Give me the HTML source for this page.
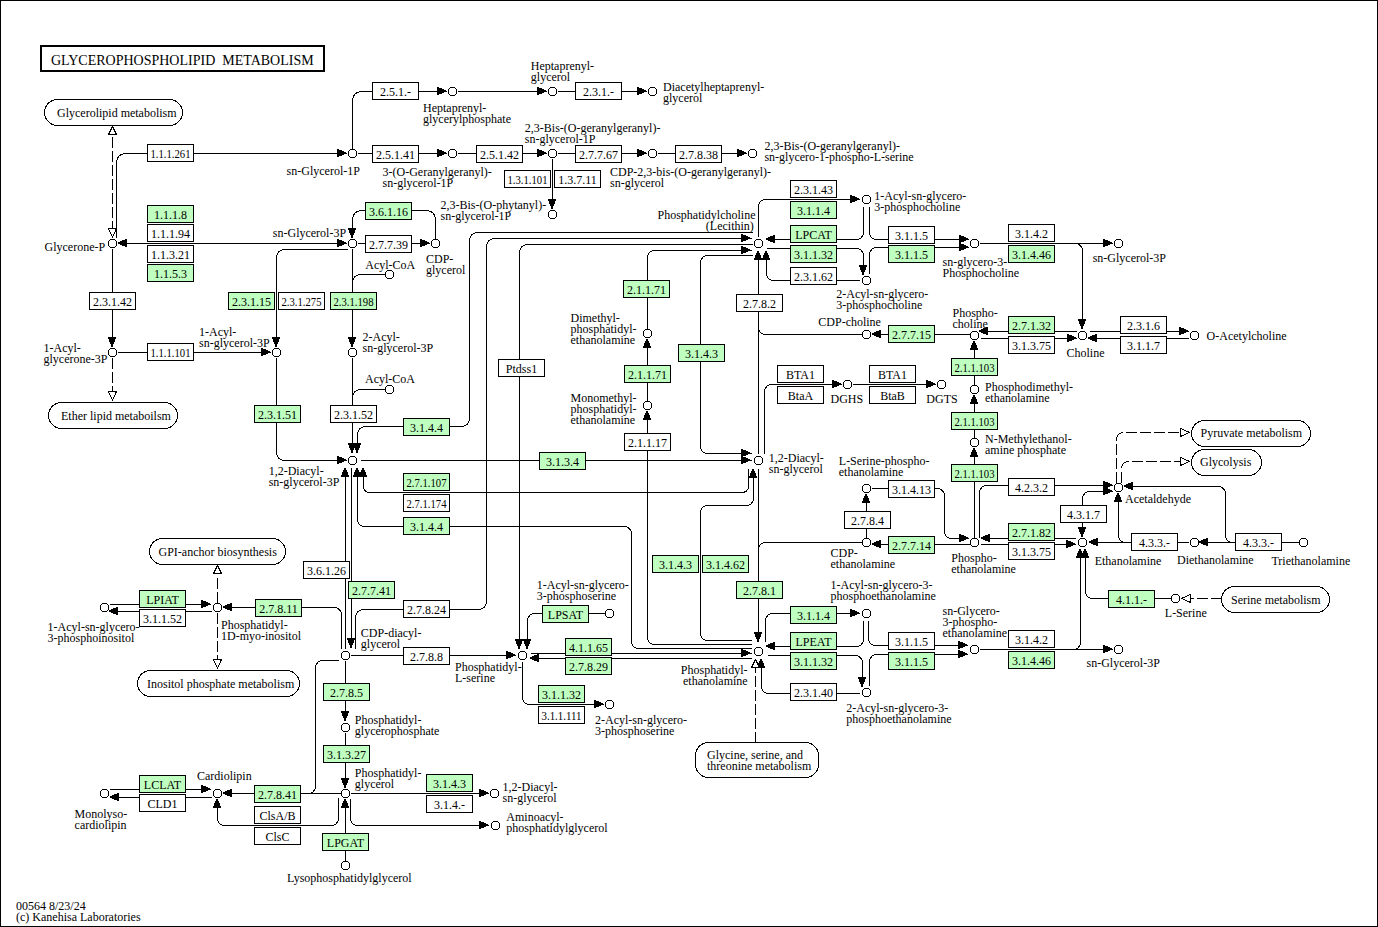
<!DOCTYPE html>
<html><head><meta charset="utf-8"><style>
html,body{margin:0;padding:0;background:#fff;}
svg{display:block;}
text{font-family:"Liberation Serif",serif;font-size:13px;fill:#000;}
</style></head><body>
<svg width="1378" height="927" viewBox="0 0 1378 927">
<rect x="0.5" y="0.5" width="1377" height="926" fill="#fff" stroke="#000"/>
<g fill="none" stroke="#000" stroke-width="1" shape-rendering="crispEdges">
<path d="M116.5 237.5 L116.50 163.50 Q116.5 153.5 126.50 153.50 L345.5 153.5"/>
<path d="M118.5 243.5 L346.5 243.5"/>
<path d="M112.5 248.5 L112.5 345.5"/>
<path d="M117.5 352.5 L269.5 352.5"/>
<path d="M347.5 249.5 L285.50 249.50 Q276.5 249.5 276.50 258.50 L276.5 345.5"/>
<path d="M276.5 357.5 L276.50 451.50 Q276.5 460.5 285.50 460.50 L345.5 460.5"/>
<path d="M352.5 248.5 L352.5 345.5"/>
<path d="M384.5 274.5 L361.50 274.50 Q352.5 274.5 352.50 283.50 L352.5 292.5"/>
<path d="M352.5 357.5 L352.5 452.5"/>
<path d="M384.5 389.5 L361.50 389.50 Q352.5 389.5 352.50 398.50 L352.5 405.5"/>
<path d="M435.5 238.5 L435.50 220.50 Q435.5 210.5 425.50 210.50 L362.50 210.50 Q352.5 210.5 352.50 220.50 L352.5 237.5"/>
<path d="M357.5 243.5 L428.5 243.5"/>
<path d="M352.5 148.5 L352.50 101.50 Q352.5 91.5 362.50 91.50 L446.5 91.5"/>
<path d="M457.5 91.5 L546.5 91.5"/>
<path d="M557.5 91.5 L646.5 91.5"/>
<path d="M357.5 153.5 L446.5 153.5"/>
<path d="M457.5 153.5 L546.5 153.5"/>
<path d="M557.5 153.5 L646.5 153.5"/>
<path d="M657.5 153.5 L746.5 153.5"/>
<path d="M552.5 158.5 L552.5 207.5"/>
<path d="M752.5 232.5 L478.50 232.50 Q469.5 232.5 469.50 241.50 L469.50 417.50 Q469.5 426.5 460.50 426.50 L366.50 426.50 Q357.5 426.5 357.50 435.50 L357.5 452.5"/>
<path d="M360.5 460.5 L751.5 460.5"/>
<path d="M748.5 468.5 L748.50 485.50 Q748.5 492.5 741.50 492.50 L370.50 492.50 Q363.5 492.5 363.50 485.50 L363.5 468.5"/>
<path d="M751.5 648.5 L639.50 648.50 Q631.5 648.5 631.50 640.50 L631.50 534.50 Q631.5 526.5 623.50 526.50 L365.50 526.50 Q357.5 526.5 357.50 518.50 L357.5 468.5"/>
<path d="M345.5 648.5 L345.5 468.5"/>
<path d="M351.5 467.5 L351.5 647.5"/>
<path d="M355.5 648.5 L355.50 618.50 Q355.5 609.5 364.50 609.50 L477.50 609.50 Q486.5 609.5 486.50 600.50 L486.50 247.50 Q486.5 238.5 495.50 238.50 L751.5 238.5"/>
<path d="M752.5 244.5 L528.50 244.50 Q519.5 244.5 519.50 253.50 L519.5 648.5"/>
<path d="M350.5 655.5 L515.5 655.5"/>
<path d="M604.5 613.5 L535.50 613.50 Q527.5 613.5 527.50 621.50 L527.5 648.5"/>
<path d="M530.5 653.5 L751.5 653.5"/>
<path d="M751.5 658.5 L530.5 658.5"/>
<path d="M522.5 661.5 L522.50 696.50 Q522.5 704.5 530.50 704.50 L603.5 704.5"/>
<path d="M345.5 660.5 L345.5 720.5"/>
<path d="M345.5 732.5 L345.5 786.5"/>
<path d="M338.5 660.5 L323.50 660.50 Q315.5 660.5 315.50 668.50 L315.50 785.50 Q315.5 793.5 307.50 793.50 L305.5 793.5"/>
<path d="M340.5 793.5 L224.5 793.5"/>
<path d="M338.5 797.5 L338.50 817.50 Q338.5 825.5 330.50 825.50 L225.50 825.50 Q217.5 825.5 217.50 817.50 L217.5 806.5"/>
<path d="M350.5 798.5 L350.50 817.50 Q350.5 825.5 358.50 825.50 L488.5 825.5"/>
<path d="M350.5 793.5 L487.5 793.5"/>
<path d="M345.5 860.5 L345.5 800.5"/>
<path d="M109.5 789.5 L210.5 789.5"/>
<path d="M211.5 797.5 L110.5 797.5"/>
<path d="M341.5 648.5 L341.50 615.50 Q341.5 607.5 333.50 607.50 L223.5 607.5"/>
<path d="M109.5 604.5 L210.5 604.5"/>
<path d="M211.5 611.5 L110.5 611.5"/>
<path d="M758.5 236.5 L758.50 207.50 Q758.5 199.5 766.50 199.50 L859.5 199.5"/>
<path d="M863.5 206.5 L863.50 231.50 Q863.5 239.5 855.50 239.50 L766.5 239.5"/>
<path d="M766.5 248.5 L855.50 248.50 Q863.5 248.5 863.50 256.50 L863.5 268.5"/>
<path d="M859.5 280.5 L774.50 280.50 Q766.5 280.5 766.50 272.50 L766.5 251.5"/>
<path d="M869.5 206.5 L869.50 231.50 Q869.5 239.5 877.50 239.50 L967.5 239.5"/>
<path d="M869.5 273.5 L869.50 255.50 Q869.5 247.5 877.50 247.50 L967.5 247.5"/>
<path d="M979.5 243.5 L1111.5 243.5"/>
<path d="M1074.5 243.5 L1074.50 243.50 Q1082.5 243.5 1082.50 251.50 L1082.5 327.5"/>
<path d="M758.5 453.5 L758.5 251.5"/>
<path d="M861.5 334.5 L766.50 334.50 Q758.5 334.5 758.50 326.50 L758.5 318.5"/>
<path d="M969.5 334.5 L872.5 334.5"/>
<path d="M752.5 255.5 L708.50 255.50 Q700.5 255.5 700.50 263.50 L700.50 445.50 Q700.5 453.5 708.50 453.50 L751.5 453.5"/>
<path d="M647.5 328.5 L647.50 258.50 Q647.5 250.5 655.50 250.50 L751.5 250.5"/>
<path d="M647.5 400.5 L647.5 340.5"/>
<path d="M751.5 644.5 L655.50 644.50 Q647.5 644.5 647.50 636.50 L647.5 412.5"/>
<path d="M751.5 640.5 L708.50 640.50 Q700.5 640.5 700.50 632.50 L700.50 513.50 Q700.5 505.5 708.50 505.50 L745.50 505.50 Q753.5 505.5 753.50 497.50 L753.5 468.5"/>
<path d="M764.5 453.5 L764.50 392.50 Q764.5 384.5 772.50 384.50 L840.5 384.5"/>
<path d="M852.5 384.5 L934.5 384.5"/>
<path d="M758.5 468.5 L758.5 641.5"/>
<path d="M861.5 542.5 L766.50 542.50 Q758.5 542.5 758.50 550.50 L758.5 556.5"/>
<path d="M866.5 537.5 L866.5 495.5"/>
<path d="M871.5 488.5 L936.50 488.50 Q944.5 488.5 944.50 496.50 L944.50 530.50 Q944.5 538.5 952.50 538.50 L967.5 538.5"/>
<path d="M969.5 544.5 L872.5 544.5"/>
<path d="M765.5 641.5 L765.50 621.50 Q765.5 613.5 773.50 613.50 L859.5 613.5"/>
<path d="M863.5 620.5 L863.50 638.50 Q863.5 646.5 855.50 646.50 L766.5 646.5"/>
<path d="M767.5 655.5 L854.50 655.50 Q862.5 655.5 862.50 663.50 L862.5 680.5"/>
<path d="M859.5 693.5 L769.50 693.50 Q761.5 693.5 761.50 685.50 L761.5 666.5"/>
<path d="M868.5 620.5 L868.50 637.50 Q868.5 645.5 876.50 645.50 L967.5 645.5"/>
<path d="M869.5 685.5 L869.50 662.50 Q869.5 654.5 877.50 654.50 L967.5 654.5"/>
<path d="M979.5 649.5 L1111.5 649.5"/>
<path d="M1072.5 649.5 L1072.50 649.50 Q1080.5 649.5 1080.50 641.50 L1080.5 550.5"/>
<path d="M755.5 742.5 L755.5 667.5" stroke-dasharray="11 3"/>
<path d="M1170.5 598.5 L1093.50 598.50 Q1085.5 598.5 1085.50 590.50 L1085.5 550.5"/>
<path d="M1221.5 598.5 L1189.5 598.5" stroke-dasharray="11 3"/>
<path d="M1076.5 331.5 L979.5 331.5"/>
<path d="M980.5 338.5 L1075.5 338.5"/>
<path d="M1089.5 331.5 L1187.5 331.5"/>
<path d="M1188.5 338.5 L1089.5 338.5"/>
<path d="M974.5 384.5 L974.5 342.5"/>
<path d="M974.5 437.5 L974.5 396.5"/>
<path d="M974.5 537.5 L974.5 449.5"/>
<path d="M979.5 537.5 L979.50 493.50 Q979.5 485.5 987.50 485.50 L1111.5 485.5"/>
<path d="M1111.5 491.5 L1090.50 491.50 Q1082.5 491.5 1082.50 499.50 L1082.5 535.5"/>
<path d="M1075.5 538.5 L981.5 538.5"/>
<path d="M980.5 544.5 L1075.5 544.5"/>
<path d="M1188.5 542.5 L1089.5 542.5"/>
<path d="M1131.5 542.5 L1126.50 542.50 Q1118.5 542.5 1118.50 534.50 L1118.5 495.5"/>
<path d="M1298.5 542.5 L1201.5 542.5"/>
<path d="M1235.5 542.5 L1233.50 542.50 Q1225.5 542.5 1225.50 534.50 L1225.50 494.50 Q1225.5 486.5 1217.50 486.50 L1125.5 486.5"/>
<path d="M1116.5 482.5 L1116.50 440.50 Q1116.5 432.5 1124.50 432.50 L1180.5 432.5" stroke-dasharray="11 3"/>
<path d="M1121.5 482.5 L1121.50 469.50 Q1121.5 461.5 1129.50 461.50 L1180.5 461.5" stroke-dasharray="11 3"/>
<path d="M217.5 602.5 L217.5 574.5" stroke-dasharray="11 3"/>
<path d="M217.5 612.5 L217.5 660.5" stroke-dasharray="11 3"/>
<path d="M112.5 136.5 L112.5 229.5" stroke-dasharray="11 3"/>
<path d="M112.5 357.5 L112.5 391.5" stroke-dasharray="11 3"/>
</g>
<g stroke="#000" stroke-width="1" shape-rendering="crispEdges">
<rect x="41" y="46" width="283" height="25" fill="#fff" stroke-width="2"/>
<rect x="44.5" y="99.5" width="138" height="26" rx="13" ry="13" fill="#fff"/>
<rect x="48.5" y="402.5" width="129" height="26" rx="13" ry="13" fill="#fff"/>
<rect x="149.5" y="538.5" width="136" height="26" rx="13" ry="13" fill="#fff"/>
<rect x="137.5" y="670.5" width="162" height="26" rx="13" ry="13" fill="#fff"/>
<rect x="695.5" y="742.5" width="123" height="35" rx="13" ry="13" fill="#fff"/>
<rect x="1191.5" y="420.5" width="119" height="26" rx="13" ry="13" fill="#fff"/>
<rect x="1191.5" y="449.5" width="70" height="26" rx="13" ry="13" fill="#fff"/>
<rect x="1221.5" y="586.5" width="108" height="26" rx="13" ry="13" fill="#fff"/>
<rect x="147.5" y="144.5" width="46" height="17" fill="#ffffff"/>
<rect x="147.5" y="205.5" width="46" height="17" fill="#bfffbf"/>
<rect x="147.5" y="224.5" width="46" height="17" fill="#ffffff"/>
<rect x="147.5" y="245.5" width="46" height="17" fill="#ffffff"/>
<rect x="147.5" y="264.5" width="46" height="17" fill="#bfffbf"/>
<rect x="89.5" y="292.5" width="46" height="17" fill="#ffffff"/>
<rect x="147.5" y="343.5" width="46" height="17" fill="#ffffff"/>
<rect x="228.5" y="292.5" width="46" height="17" fill="#bfffbf"/>
<rect x="278.5" y="292.5" width="46" height="17" fill="#ffffff"/>
<rect x="330.5" y="292.5" width="46" height="17" fill="#bfffbf"/>
<rect x="254.5" y="405.5" width="46" height="17" fill="#bfffbf"/>
<rect x="330.5" y="405.5" width="46" height="17" fill="#ffffff"/>
<rect x="403.5" y="418.5" width="46" height="17" fill="#bfffbf"/>
<rect x="498.5" y="359.5" width="46" height="17" fill="#ffffff"/>
<rect x="539.5" y="452.5" width="46" height="17" fill="#bfffbf"/>
<rect x="623.5" y="280.5" width="46" height="17" fill="#bfffbf"/>
<rect x="624.5" y="365.5" width="46" height="17" fill="#bfffbf"/>
<rect x="624.5" y="433.5" width="46" height="17" fill="#ffffff"/>
<rect x="372.5" y="82.5" width="46" height="17" fill="#ffffff"/>
<rect x="372.5" y="145.5" width="46" height="17" fill="#ffffff"/>
<rect x="476.5" y="145.5" width="46" height="17" fill="#ffffff"/>
<rect x="575.5" y="82.5" width="46" height="17" fill="#ffffff"/>
<rect x="575.5" y="145.5" width="46" height="17" fill="#ffffff"/>
<rect x="675.5" y="145.5" width="46" height="17" fill="#ffffff"/>
<rect x="504.5" y="170.5" width="46" height="17" fill="#ffffff"/>
<rect x="554.5" y="170.5" width="46" height="17" fill="#ffffff"/>
<rect x="365.5" y="202.5" width="46" height="17" fill="#bfffbf"/>
<rect x="365.5" y="235.5" width="46" height="17" fill="#ffffff"/>
<rect x="403.5" y="473.5" width="46" height="17" fill="#bfffbf"/>
<rect x="403.5" y="494.5" width="46" height="17" fill="#ffffff"/>
<rect x="403.5" y="517.5" width="46" height="17" fill="#bfffbf"/>
<rect x="303.5" y="561.5" width="46" height="17" fill="#ffffff"/>
<rect x="348.5" y="581.5" width="46" height="17" fill="#bfffbf"/>
<rect x="255.5" y="599.5" width="46" height="17" fill="#bfffbf"/>
<rect x="403.5" y="600.5" width="46" height="17" fill="#ffffff"/>
<rect x="403.5" y="647.5" width="46" height="17" fill="#ffffff"/>
<rect x="139.5" y="590.5" width="46" height="17" fill="#bfffbf"/>
<rect x="139.5" y="609.5" width="46" height="17" fill="#ffffff"/>
<rect x="542.5" y="605.5" width="46" height="17" fill="#bfffbf"/>
<rect x="565.5" y="638.5" width="46" height="17" fill="#bfffbf"/>
<rect x="565.5" y="657.5" width="46" height="17" fill="#bfffbf"/>
<rect x="323.5" y="683.5" width="46" height="17" fill="#bfffbf"/>
<rect x="323.5" y="745.5" width="46" height="17" fill="#bfffbf"/>
<rect x="254.5" y="785.5" width="46" height="17" fill="#bfffbf"/>
<rect x="254.5" y="806.5" width="46" height="17" fill="#ffffff"/>
<rect x="254.5" y="827.5" width="46" height="17" fill="#ffffff"/>
<rect x="322.5" y="833.5" width="46" height="17" fill="#bfffbf"/>
<rect x="426.5" y="774.5" width="46" height="17" fill="#bfffbf"/>
<rect x="426.5" y="795.5" width="46" height="17" fill="#ffffff"/>
<rect x="538.5" y="685.5" width="46" height="17" fill="#bfffbf"/>
<rect x="538.5" y="706.5" width="46" height="17" fill="#ffffff"/>
<rect x="139.5" y="775.5" width="46" height="17" fill="#bfffbf"/>
<rect x="139.5" y="794.5" width="46" height="17" fill="#ffffff"/>
<rect x="790.5" y="180.5" width="46" height="17" fill="#ffffff"/>
<rect x="790.5" y="201.5" width="46" height="17" fill="#bfffbf"/>
<rect x="790.5" y="225.5" width="46" height="17" fill="#bfffbf"/>
<rect x="790.5" y="245.5" width="46" height="17" fill="#bfffbf"/>
<rect x="790.5" y="267.5" width="46" height="17" fill="#ffffff"/>
<rect x="888.5" y="226.5" width="46" height="17" fill="#ffffff"/>
<rect x="888.5" y="245.5" width="46" height="17" fill="#bfffbf"/>
<rect x="736.5" y="294.5" width="46" height="17" fill="#ffffff"/>
<rect x="888.5" y="325.5" width="46" height="17" fill="#bfffbf"/>
<rect x="678.5" y="344.5" width="46" height="17" fill="#bfffbf"/>
<rect x="777.5" y="365.5" width="46" height="17" fill="#ffffff"/>
<rect x="777.5" y="386.5" width="46" height="17" fill="#ffffff"/>
<rect x="869.5" y="365.5" width="46" height="17" fill="#ffffff"/>
<rect x="869.5" y="386.5" width="46" height="17" fill="#ffffff"/>
<rect x="1008.5" y="224.5" width="46" height="17" fill="#ffffff"/>
<rect x="1008.5" y="245.5" width="46" height="17" fill="#bfffbf"/>
<rect x="1008.5" y="316.5" width="46" height="17" fill="#bfffbf"/>
<rect x="1008.5" y="336.5" width="46" height="17" fill="#ffffff"/>
<rect x="1120.5" y="316.5" width="46" height="17" fill="#ffffff"/>
<rect x="1120.5" y="336.5" width="46" height="17" fill="#ffffff"/>
<rect x="951.5" y="358.5" width="46" height="17" fill="#bfffbf"/>
<rect x="951.5" y="412.5" width="46" height="17" fill="#bfffbf"/>
<rect x="951.5" y="464.5" width="46" height="17" fill="#bfffbf"/>
<rect x="1008.5" y="478.5" width="46" height="17" fill="#ffffff"/>
<rect x="888.5" y="480.5" width="46" height="17" fill="#ffffff"/>
<rect x="844.5" y="511.5" width="46" height="17" fill="#ffffff"/>
<rect x="888.5" y="536.5" width="46" height="17" fill="#bfffbf"/>
<rect x="1008.5" y="523.5" width="46" height="17" fill="#bfffbf"/>
<rect x="1008.5" y="542.5" width="46" height="17" fill="#ffffff"/>
<rect x="1060.5" y="505.5" width="46" height="17" fill="#ffffff"/>
<rect x="1131.5" y="533.5" width="46" height="17" fill="#ffffff"/>
<rect x="1235.5" y="533.5" width="46" height="17" fill="#ffffff"/>
<rect x="1108.5" y="590.5" width="46" height="17" fill="#bfffbf"/>
<rect x="652.5" y="555.5" width="46" height="17" fill="#bfffbf"/>
<rect x="702.5" y="555.5" width="46" height="17" fill="#bfffbf"/>
<rect x="736.5" y="581.5" width="46" height="17" fill="#bfffbf"/>
<rect x="790.5" y="606.5" width="46" height="17" fill="#bfffbf"/>
<rect x="790.5" y="632.5" width="46" height="17" fill="#bfffbf"/>
<rect x="790.5" y="652.5" width="46" height="17" fill="#bfffbf"/>
<rect x="888.5" y="632.5" width="46" height="17" fill="#ffffff"/>
<rect x="888.5" y="652.5" width="46" height="17" fill="#bfffbf"/>
<rect x="790.5" y="683.5" width="46" height="17" fill="#ffffff"/>
<rect x="1008.5" y="630.5" width="46" height="17" fill="#ffffff"/>
<rect x="1008.5" y="651.5" width="46" height="17" fill="#bfffbf"/>
</g>
<g shape-rendering="crispEdges">
<path d="M110 240h5v7h-5z M109 241h7v5h-7z" fill="#fff"/><path d="M110 239h5v1h-5z M109 240h1v1h-1z M115 240h1v1h-1z M108 241h1v5h-1z M116 241h1v5h-1z M109 246h1v1h-1z M115 246h1v1h-1z M110 247h5v1h-5z" fill="#000"/>
<path d="M110 349h5v7h-5z M109 350h7v5h-7z" fill="#fff"/><path d="M110 348h5v1h-5z M109 349h1v1h-1z M115 349h1v1h-1z M108 350h1v5h-1z M116 350h1v5h-1z M109 355h1v1h-1z M115 355h1v1h-1z M110 356h5v1h-5z" fill="#000"/>
<path d="M274 349h5v7h-5z M273 350h7v5h-7z" fill="#fff"/><path d="M274 348h5v1h-5z M273 349h1v1h-1z M279 349h1v1h-1z M272 350h1v5h-1z M280 350h1v5h-1z M273 355h1v1h-1z M279 355h1v1h-1z M274 356h5v1h-5z" fill="#000"/>
<path d="M350 240h5v7h-5z M349 241h7v5h-7z" fill="#fff"/><path d="M350 239h5v1h-5z M349 240h1v1h-1z M355 240h1v1h-1z M348 241h1v5h-1z M356 241h1v5h-1z M349 246h1v1h-1z M355 246h1v1h-1z M350 247h5v1h-5z" fill="#000"/>
<path d="M350 150h5v7h-5z M349 151h7v5h-7z" fill="#fff"/><path d="M350 149h5v1h-5z M349 150h1v1h-1z M355 150h1v1h-1z M348 151h1v5h-1z M356 151h1v5h-1z M349 156h1v1h-1z M355 156h1v1h-1z M350 157h5v1h-5z" fill="#000"/>
<path d="M450 88h5v7h-5z M449 89h7v5h-7z" fill="#fff"/><path d="M450 87h5v1h-5z M449 88h1v1h-1z M455 88h1v1h-1z M448 89h1v5h-1z M456 89h1v5h-1z M449 94h1v1h-1z M455 94h1v1h-1z M450 95h5v1h-5z" fill="#000"/>
<path d="M550 88h5v7h-5z M549 89h7v5h-7z" fill="#fff"/><path d="M550 87h5v1h-5z M549 88h1v1h-1z M555 88h1v1h-1z M548 89h1v5h-1z M556 89h1v5h-1z M549 94h1v1h-1z M555 94h1v1h-1z M550 95h5v1h-5z" fill="#000"/>
<path d="M650 88h5v7h-5z M649 89h7v5h-7z" fill="#fff"/><path d="M650 87h5v1h-5z M649 88h1v1h-1z M655 88h1v1h-1z M648 89h1v5h-1z M656 89h1v5h-1z M649 94h1v1h-1z M655 94h1v1h-1z M650 95h5v1h-5z" fill="#000"/>
<path d="M450 150h5v7h-5z M449 151h7v5h-7z" fill="#fff"/><path d="M450 149h5v1h-5z M449 150h1v1h-1z M455 150h1v1h-1z M448 151h1v5h-1z M456 151h1v5h-1z M449 156h1v1h-1z M455 156h1v1h-1z M450 157h5v1h-5z" fill="#000"/>
<path d="M550 150h5v7h-5z M549 151h7v5h-7z" fill="#fff"/><path d="M550 149h5v1h-5z M549 150h1v1h-1z M555 150h1v1h-1z M548 151h1v5h-1z M556 151h1v5h-1z M549 156h1v1h-1z M555 156h1v1h-1z M550 157h5v1h-5z" fill="#000"/>
<path d="M650 150h5v7h-5z M649 151h7v5h-7z" fill="#fff"/><path d="M650 149h5v1h-5z M649 150h1v1h-1z M655 150h1v1h-1z M648 151h1v5h-1z M656 151h1v5h-1z M649 156h1v1h-1z M655 156h1v1h-1z M650 157h5v1h-5z" fill="#000"/>
<path d="M750 150h5v7h-5z M749 151h7v5h-7z" fill="#fff"/><path d="M750 149h5v1h-5z M749 150h1v1h-1z M755 150h1v1h-1z M748 151h1v5h-1z M756 151h1v5h-1z M749 156h1v1h-1z M755 156h1v1h-1z M750 157h5v1h-5z" fill="#000"/>
<path d="M550 211h5v7h-5z M549 212h7v5h-7z" fill="#fff"/><path d="M550 210h5v1h-5z M549 211h1v1h-1z M555 211h1v1h-1z M548 212h1v5h-1z M556 212h1v5h-1z M549 217h1v1h-1z M555 217h1v1h-1z M550 218h5v1h-5z" fill="#000"/>
<path d="M433 240h5v7h-5z M432 241h7v5h-7z" fill="#fff"/><path d="M433 239h5v1h-5z M432 240h1v1h-1z M438 240h1v1h-1z M431 241h1v5h-1z M439 241h1v5h-1z M432 246h1v1h-1z M438 246h1v1h-1z M433 247h5v1h-5z" fill="#000"/>
<path d="M387 271h5v7h-5z M386 272h7v5h-7z" fill="#fff"/><path d="M387 270h5v1h-5z M386 271h1v1h-1z M392 271h1v1h-1z M385 272h1v5h-1z M393 272h1v5h-1z M386 277h1v1h-1z M392 277h1v1h-1z M387 278h5v1h-5z" fill="#000"/>
<path d="M350 349h5v7h-5z M349 350h7v5h-7z" fill="#fff"/><path d="M350 348h5v1h-5z M349 349h1v1h-1z M355 349h1v1h-1z M348 350h1v5h-1z M356 350h1v5h-1z M349 355h1v1h-1z M355 355h1v1h-1z M350 356h5v1h-5z" fill="#000"/>
<path d="M387 386h5v7h-5z M386 387h7v5h-7z" fill="#fff"/><path d="M387 385h5v1h-5z M386 386h1v1h-1z M392 386h1v1h-1z M385 387h1v5h-1z M393 387h1v5h-1z M386 392h1v1h-1z M392 392h1v1h-1z M387 393h5v1h-5z" fill="#000"/>
<path d="M350 457h5v7h-5z M349 458h7v5h-7z" fill="#fff"/><path d="M350 456h5v1h-5z M349 457h1v1h-1z M355 457h1v1h-1z M348 458h1v5h-1z M356 458h1v5h-1z M349 463h1v1h-1z M355 463h1v1h-1z M350 464h5v1h-5z" fill="#000"/>
<path d="M343 652h5v7h-5z M342 653h7v5h-7z" fill="#fff"/><path d="M343 651h5v1h-5z M342 652h1v1h-1z M348 652h1v1h-1z M341 653h1v5h-1z M349 653h1v5h-1z M342 658h1v1h-1z M348 658h1v1h-1z M343 659h5v1h-5z" fill="#000"/>
<path d="M215 604h5v7h-5z M214 605h7v5h-7z" fill="#fff"/><path d="M215 603h5v1h-5z M214 604h1v1h-1z M220 604h1v1h-1z M213 605h1v5h-1z M221 605h1v5h-1z M214 610h1v1h-1z M220 610h1v1h-1z M215 611h5v1h-5z" fill="#000"/>
<path d="M102 604h5v7h-5z M101 605h7v5h-7z" fill="#fff"/><path d="M102 603h5v1h-5z M101 604h1v1h-1z M107 604h1v1h-1z M100 605h1v5h-1z M108 605h1v5h-1z M101 610h1v1h-1z M107 610h1v1h-1z M102 611h5v1h-5z" fill="#000"/>
<path d="M343 724h5v7h-5z M342 725h7v5h-7z" fill="#fff"/><path d="M343 723h5v1h-5z M342 724h1v1h-1z M348 724h1v1h-1z M341 725h1v5h-1z M349 725h1v5h-1z M342 730h1v1h-1z M348 730h1v1h-1z M343 731h5v1h-5z" fill="#000"/>
<path d="M343 790h5v7h-5z M342 791h7v5h-7z" fill="#fff"/><path d="M343 789h5v1h-5z M342 790h1v1h-1z M348 790h1v1h-1z M341 791h1v5h-1z M349 791h1v5h-1z M342 796h1v1h-1z M348 796h1v1h-1z M343 797h5v1h-5z" fill="#000"/>
<path d="M343 862h5v7h-5z M342 863h7v5h-7z" fill="#fff"/><path d="M343 861h5v1h-5z M342 862h1v1h-1z M348 862h1v1h-1z M341 863h1v5h-1z M349 863h1v5h-1z M342 868h1v1h-1z M348 868h1v1h-1z M343 869h5v1h-5z" fill="#000"/>
<path d="M215 790h5v7h-5z M214 791h7v5h-7z" fill="#fff"/><path d="M215 789h5v1h-5z M214 790h1v1h-1z M220 790h1v1h-1z M213 791h1v5h-1z M221 791h1v5h-1z M214 796h1v1h-1z M220 796h1v1h-1z M215 797h5v1h-5z" fill="#000"/>
<path d="M102 790h5v7h-5z M101 791h7v5h-7z" fill="#fff"/><path d="M102 789h5v1h-5z M101 790h1v1h-1z M107 790h1v1h-1z M100 791h1v5h-1z M108 791h1v5h-1z M101 796h1v1h-1z M107 796h1v1h-1z M102 797h5v1h-5z" fill="#000"/>
<path d="M492 790h5v7h-5z M491 791h7v5h-7z" fill="#fff"/><path d="M492 789h5v1h-5z M491 790h1v1h-1z M497 790h1v1h-1z M490 791h1v5h-1z M498 791h1v5h-1z M491 796h1v1h-1z M497 796h1v1h-1z M492 797h5v1h-5z" fill="#000"/>
<path d="M493 822h5v7h-5z M492 823h7v5h-7z" fill="#fff"/><path d="M493 821h5v1h-5z M492 822h1v1h-1z M498 822h1v1h-1z M491 823h1v5h-1z M499 823h1v5h-1z M492 828h1v1h-1z M498 828h1v1h-1z M493 829h5v1h-5z" fill="#000"/>
<path d="M520 652h5v7h-5z M519 653h7v5h-7z" fill="#fff"/><path d="M520 651h5v1h-5z M519 652h1v1h-1z M525 652h1v1h-1z M518 653h1v5h-1z M526 653h1v5h-1z M519 658h1v1h-1z M525 658h1v1h-1z M520 659h5v1h-5z" fill="#000"/>
<path d="M607 610h5v7h-5z M606 611h7v5h-7z" fill="#fff"/><path d="M607 609h5v1h-5z M606 610h1v1h-1z M612 610h1v1h-1z M605 611h1v5h-1z M613 611h1v5h-1z M606 616h1v1h-1z M612 616h1v1h-1z M607 617h5v1h-5z" fill="#000"/>
<path d="M607 701h5v7h-5z M606 702h7v5h-7z" fill="#fff"/><path d="M607 700h5v1h-5z M606 701h1v1h-1z M612 701h1v1h-1z M605 702h1v5h-1z M613 702h1v5h-1z M606 707h1v1h-1z M612 707h1v1h-1z M607 708h5v1h-5z" fill="#000"/>
<path d="M645 330h5v7h-5z M644 331h7v5h-7z" fill="#fff"/><path d="M645 329h5v1h-5z M644 330h1v1h-1z M650 330h1v1h-1z M643 331h1v5h-1z M651 331h1v5h-1z M644 336h1v1h-1z M650 336h1v1h-1z M645 337h5v1h-5z" fill="#000"/>
<path d="M645 402h5v7h-5z M644 403h7v5h-7z" fill="#fff"/><path d="M645 401h5v1h-5z M644 402h1v1h-1z M650 402h1v1h-1z M643 403h1v5h-1z M651 403h1v5h-1z M644 408h1v1h-1z M650 408h1v1h-1z M645 409h5v1h-5z" fill="#000"/>
<path d="M756 240h5v7h-5z M755 241h7v5h-7z" fill="#fff"/><path d="M756 239h5v1h-5z M755 240h1v1h-1z M761 240h1v1h-1z M754 241h1v5h-1z M762 241h1v5h-1z M755 246h1v1h-1z M761 246h1v1h-1z M756 247h5v1h-5z" fill="#000"/>
<path d="M864 196h5v7h-5z M863 197h7v5h-7z" fill="#fff"/><path d="M864 195h5v1h-5z M863 196h1v1h-1z M869 196h1v1h-1z M862 197h1v5h-1z M870 197h1v5h-1z M863 202h1v1h-1z M869 202h1v1h-1z M864 203h5v1h-5z" fill="#000"/>
<path d="M864 277h5v7h-5z M863 278h7v5h-7z" fill="#fff"/><path d="M864 276h5v1h-5z M863 277h1v1h-1z M869 277h1v1h-1z M862 278h1v5h-1z M870 278h1v5h-1z M863 283h1v1h-1z M869 283h1v1h-1z M864 284h5v1h-5z" fill="#000"/>
<path d="M864 331h5v7h-5z M863 332h7v5h-7z" fill="#fff"/><path d="M864 330h5v1h-5z M863 331h1v1h-1z M869 331h1v1h-1z M862 332h1v5h-1z M870 332h1v5h-1z M863 337h1v1h-1z M869 337h1v1h-1z M864 338h5v1h-5z" fill="#000"/>
<path d="M972 332h5v7h-5z M971 333h7v5h-7z" fill="#fff"/><path d="M972 331h5v1h-5z M971 332h1v1h-1z M977 332h1v1h-1z M970 333h1v5h-1z M978 333h1v5h-1z M971 338h1v1h-1z M977 338h1v1h-1z M972 339h5v1h-5z" fill="#000"/>
<path d="M972 240h5v7h-5z M971 241h7v5h-7z" fill="#fff"/><path d="M972 239h5v1h-5z M971 240h1v1h-1z M977 240h1v1h-1z M970 241h1v5h-1z M978 241h1v5h-1z M971 246h1v1h-1z M977 246h1v1h-1z M972 247h5v1h-5z" fill="#000"/>
<path d="M1116 240h5v7h-5z M1115 241h7v5h-7z" fill="#fff"/><path d="M1116 239h5v1h-5z M1115 240h1v1h-1z M1121 240h1v1h-1z M1114 241h1v5h-1z M1122 241h1v5h-1z M1115 246h1v1h-1z M1121 246h1v1h-1z M1116 247h5v1h-5z" fill="#000"/>
<path d="M1080 332h5v7h-5z M1079 333h7v5h-7z" fill="#fff"/><path d="M1080 331h5v1h-5z M1079 332h1v1h-1z M1085 332h1v1h-1z M1078 333h1v5h-1z M1086 333h1v5h-1z M1079 338h1v1h-1z M1085 338h1v1h-1z M1080 339h5v1h-5z" fill="#000"/>
<path d="M1192 332h5v7h-5z M1191 333h7v5h-7z" fill="#fff"/><path d="M1192 331h5v1h-5z M1191 332h1v1h-1z M1197 332h1v1h-1z M1190 333h1v5h-1z M1198 333h1v5h-1z M1191 338h1v1h-1z M1197 338h1v1h-1z M1192 339h5v1h-5z" fill="#000"/>
<path d="M845 381h5v7h-5z M844 382h7v5h-7z" fill="#fff"/><path d="M845 380h5v1h-5z M844 381h1v1h-1z M850 381h1v1h-1z M843 382h1v5h-1z M851 382h1v5h-1z M844 387h1v1h-1z M850 387h1v1h-1z M845 388h5v1h-5z" fill="#000"/>
<path d="M939 381h5v7h-5z M938 382h7v5h-7z" fill="#fff"/><path d="M939 380h5v1h-5z M938 381h1v1h-1z M944 381h1v1h-1z M937 382h1v5h-1z M945 382h1v5h-1z M938 387h1v1h-1z M944 387h1v1h-1z M939 388h5v1h-5z" fill="#000"/>
<path d="M756 457h5v7h-5z M755 458h7v5h-7z" fill="#fff"/><path d="M756 456h5v1h-5z M755 457h1v1h-1z M761 457h1v1h-1z M754 458h1v5h-1z M762 458h1v5h-1z M755 463h1v1h-1z M761 463h1v1h-1z M756 464h5v1h-5z" fill="#000"/>
<path d="M972 386h5v7h-5z M971 387h7v5h-7z" fill="#fff"/><path d="M972 385h5v1h-5z M971 386h1v1h-1z M977 386h1v1h-1z M970 387h1v5h-1z M978 387h1v5h-1z M971 392h1v1h-1z M977 392h1v1h-1z M972 393h5v1h-5z" fill="#000"/>
<path d="M972 439h5v7h-5z M971 440h7v5h-7z" fill="#fff"/><path d="M972 438h5v1h-5z M971 439h1v1h-1z M977 439h1v1h-1z M970 440h1v5h-1z M978 440h1v5h-1z M971 445h1v1h-1z M977 445h1v1h-1z M972 446h5v1h-5z" fill="#000"/>
<path d="M972 539h5v7h-5z M971 540h7v5h-7z" fill="#fff"/><path d="M972 538h5v1h-5z M971 539h1v1h-1z M977 539h1v1h-1z M970 540h1v5h-1z M978 540h1v5h-1z M971 545h1v1h-1z M977 545h1v1h-1z M972 546h5v1h-5z" fill="#000"/>
<path d="M1080 539h5v7h-5z M1079 540h7v5h-7z" fill="#fff"/><path d="M1080 538h5v1h-5z M1079 539h1v1h-1z M1085 539h1v1h-1z M1078 540h1v5h-1z M1086 540h1v5h-1z M1079 545h1v1h-1z M1085 545h1v1h-1z M1080 546h5v1h-5z" fill="#000"/>
<path d="M1116 484h5v7h-5z M1115 485h7v5h-7z" fill="#fff"/><path d="M1116 483h5v1h-5z M1115 484h1v1h-1z M1121 484h1v1h-1z M1114 485h1v5h-1z M1122 485h1v5h-1z M1115 490h1v1h-1z M1121 490h1v1h-1z M1116 491h5v1h-5z" fill="#000"/>
<path d="M1192 539h5v7h-5z M1191 540h7v5h-7z" fill="#fff"/><path d="M1192 538h5v1h-5z M1191 539h1v1h-1z M1197 539h1v1h-1z M1190 540h1v5h-1z M1198 540h1v5h-1z M1191 545h1v1h-1z M1197 545h1v1h-1z M1192 546h5v1h-5z" fill="#000"/>
<path d="M1301 539h5v7h-5z M1300 540h7v5h-7z" fill="#fff"/><path d="M1301 538h5v1h-5z M1300 539h1v1h-1z M1306 539h1v1h-1z M1299 540h1v5h-1z M1307 540h1v5h-1z M1300 545h1v1h-1z M1306 545h1v1h-1z M1301 546h5v1h-5z" fill="#000"/>
<path d="M1173 595h5v7h-5z M1172 596h7v5h-7z" fill="#fff"/><path d="M1173 594h5v1h-5z M1172 595h1v1h-1z M1178 595h1v1h-1z M1171 596h1v5h-1z M1179 596h1v5h-1z M1172 601h1v1h-1z M1178 601h1v1h-1z M1173 602h5v1h-5z" fill="#000"/>
<path d="M864 485h5v7h-5z M863 486h7v5h-7z" fill="#fff"/><path d="M864 484h5v1h-5z M863 485h1v1h-1z M869 485h1v1h-1z M862 486h1v5h-1z M870 486h1v5h-1z M863 491h1v1h-1z M869 491h1v1h-1z M864 492h5v1h-5z" fill="#000"/>
<path d="M864 539h5v7h-5z M863 540h7v5h-7z" fill="#fff"/><path d="M864 538h5v1h-5z M863 539h1v1h-1z M869 539h1v1h-1z M862 540h1v5h-1z M870 540h1v5h-1z M863 545h1v1h-1z M869 545h1v1h-1z M864 546h5v1h-5z" fill="#000"/>
<path d="M864 610h5v7h-5z M863 611h7v5h-7z" fill="#fff"/><path d="M864 609h5v1h-5z M863 610h1v1h-1z M869 610h1v1h-1z M862 611h1v5h-1z M870 611h1v5h-1z M863 616h1v1h-1z M869 616h1v1h-1z M864 617h5v1h-5z" fill="#000"/>
<path d="M756 648h5v7h-5z M755 649h7v5h-7z" fill="#fff"/><path d="M756 647h5v1h-5z M755 648h1v1h-1z M761 648h1v1h-1z M754 649h1v5h-1z M762 649h1v5h-1z M755 654h1v1h-1z M761 654h1v1h-1z M756 655h5v1h-5z" fill="#000"/>
<path d="M864 689h5v7h-5z M863 690h7v5h-7z" fill="#fff"/><path d="M864 688h5v1h-5z M863 689h1v1h-1z M869 689h1v1h-1z M862 690h1v5h-1z M870 690h1v5h-1z M863 695h1v1h-1z M869 695h1v1h-1z M864 696h5v1h-5z" fill="#000"/>
<path d="M972 646h5v7h-5z M971 647h7v5h-7z" fill="#fff"/><path d="M972 645h5v1h-5z M971 646h1v1h-1z M977 646h1v1h-1z M970 647h1v5h-1z M978 647h1v5h-1z M971 652h1v1h-1z M977 652h1v1h-1z M972 653h5v1h-5z" fill="#000"/>
<path d="M1116 646h5v7h-5z M1115 647h7v5h-7z" fill="#fff"/><path d="M1116 645h5v1h-5z M1115 646h1v1h-1z M1121 646h1v1h-1z M1114 647h1v5h-1z M1122 647h1v5h-1z M1115 652h1v1h-1z M1121 652h1v1h-1z M1116 653h5v1h-5z" fill="#000"/>
</g>
<g shape-rendering="crispEdges">
<path d="M346 153h1v1h-1z M344 152h2v2h-2z M342 151h2v4h-2z M339 150h3v6h-3z M337 149h2v8h-2z" fill="#000"/>
<path d="M118 242h2v2h-2z M120 241h2v4h-2z M122 240h3v6h-3z M125 239h2v8h-2z" fill="#000"/>
<path d="M346 243h1v1h-1z M344 242h2v2h-2z M342 241h2v4h-2z M339 240h3v6h-3z M337 239h2v8h-2z" fill="#000"/>
<path d="M111 346h2v1h-2z M111 344h2v2h-2z M110 342h4v2h-4z M109 339h6v3h-6z M108 337h8v2h-8z" fill="#000"/>
<path d="M270 352h1v1h-1z M268 351h2v2h-2z M266 350h2v4h-2z M263 349h3v6h-3z M261 348h2v8h-2z" fill="#000"/>
<path d="M275 346h2v1h-2z M275 344h2v2h-2z M274 342h4v2h-4z M273 339h6v3h-6z M272 337h8v2h-8z" fill="#000"/>
<path d="M346 460h1v1h-1z M344 459h2v2h-2z M342 458h2v4h-2z M339 457h3v6h-3z M337 456h2v8h-2z" fill="#000"/>
<path d="M351 346h2v1h-2z M351 344h2v2h-2z M350 342h4v2h-4z M349 339h6v3h-6z M348 337h8v2h-8z" fill="#000"/>
<path d="M351 452h2v1h-2z M351 450h2v2h-2z M350 448h4v2h-4z M349 445h6v3h-6z M348 443h8v2h-8z" fill="#000"/>
<path d="M351 237h2v1h-2z M351 235h2v2h-2z M350 233h4v2h-4z M349 230h6v3h-6z M348 228h8v2h-8z" fill="#000"/>
<path d="M429 243h1v1h-1z M427 242h2v2h-2z M425 241h2v4h-2z M422 240h3v6h-3z M420 239h2v8h-2z" fill="#000"/>
<path d="M446 91h1v1h-1z M444 90h2v2h-2z M442 89h2v4h-2z M439 88h3v6h-3z M437 87h2v8h-2z" fill="#000"/>
<path d="M546 91h1v1h-1z M544 90h2v2h-2z M542 89h2v4h-2z M539 88h3v6h-3z M537 87h2v8h-2z" fill="#000"/>
<path d="M646 91h1v1h-1z M644 90h2v2h-2z M642 89h2v4h-2z M639 88h3v6h-3z M637 87h2v8h-2z" fill="#000"/>
<path d="M446 153h1v1h-1z M444 152h2v2h-2z M442 151h2v4h-2z M439 150h3v6h-3z M437 149h2v8h-2z" fill="#000"/>
<path d="M546 153h1v1h-1z M544 152h2v2h-2z M542 151h2v4h-2z M539 150h3v6h-3z M537 149h2v8h-2z" fill="#000"/>
<path d="M646 153h1v1h-1z M644 152h2v2h-2z M642 151h2v4h-2z M639 150h3v6h-3z M637 149h2v8h-2z" fill="#000"/>
<path d="M746 153h1v1h-1z M744 152h2v2h-2z M742 151h2v4h-2z M739 150h3v6h-3z M737 149h2v8h-2z" fill="#000"/>
<path d="M551 208h2v1h-2z M551 206h2v2h-2z M550 204h4v2h-4z M549 201h6v3h-6z M548 199h8v2h-8z" fill="#000"/>
<path d="M356 452h2v1h-2z M356 450h2v2h-2z M355 448h4v2h-4z M354 445h6v3h-6z M353 443h8v2h-8z" fill="#000"/>
<path d="M750 460h1v1h-1z M748 459h2v2h-2z M746 458h2v4h-2z M743 457h3v6h-3z M741 456h2v8h-2z" fill="#000"/>
<path d="M362 468h2v2h-2z M361 470h4v2h-4z M360 472h6v3h-6z M359 475h8v2h-8z" fill="#000"/>
<path d="M356 468h2v2h-2z M355 470h4v2h-4z M354 472h6v3h-6z M353 475h8v2h-8z" fill="#000"/>
<path d="M344 468h2v2h-2z M343 470h4v2h-4z M342 472h6v3h-6z M341 475h8v2h-8z" fill="#000"/>
<path d="M350 647h2v1h-2z M350 645h2v2h-2z M349 643h4v2h-4z M348 640h6v3h-6z M347 638h8v2h-8z" fill="#000"/>
<path d="M750 238h1v1h-1z M748 237h2v2h-2z M746 236h2v4h-2z M743 235h3v6h-3z M741 234h2v8h-2z" fill="#000"/>
<path d="M518 648h2v1h-2z M518 646h2v2h-2z M517 644h4v2h-4z M516 641h6v3h-6z M515 639h8v2h-8z" fill="#000"/>
<path d="M515 655h1v1h-1z M513 654h2v2h-2z M511 653h2v4h-2z M508 652h3v6h-3z M506 651h2v8h-2z" fill="#000"/>
<path d="M526 648h2v1h-2z M526 646h2v2h-2z M525 644h4v2h-4z M524 641h6v3h-6z M523 639h8v2h-8z" fill="#000"/>
<path d="M750 653h1v1h-1z M748 652h2v2h-2z M746 651h2v4h-2z M743 650h3v6h-3z M741 649h2v8h-2z" fill="#000"/>
<path d="M530 657h2v2h-2z M532 656h2v4h-2z M534 655h3v6h-3z M537 654h2v8h-2z" fill="#000"/>
<path d="M603 704h1v1h-1z M601 703h2v2h-2z M599 702h2v4h-2z M596 701h3v6h-3z M594 700h2v8h-2z" fill="#000"/>
<path d="M344 720h2v1h-2z M344 718h2v2h-2z M343 716h4v2h-4z M342 713h6v3h-6z M341 711h8v2h-8z" fill="#000"/>
<path d="M344 787h2v1h-2z M344 785h2v2h-2z M343 783h4v2h-4z M342 780h6v3h-6z M341 778h8v2h-8z" fill="#000"/>
<path d="M223 792h2v2h-2z M225 791h2v4h-2z M227 790h3v6h-3z M230 789h2v8h-2z" fill="#000"/>
<path d="M216 799h2v2h-2z M215 801h4v2h-4z M214 803h6v3h-6z M213 806h8v2h-8z" fill="#000"/>
<path d="M488 825h1v1h-1z M486 824h2v2h-2z M484 823h2v4h-2z M481 822h3v6h-3z M479 821h2v8h-2z" fill="#000"/>
<path d="M488 793h1v1h-1z M486 792h2v2h-2z M484 791h2v4h-2z M481 790h3v6h-3z M479 789h2v8h-2z" fill="#000"/>
<path d="M344 799h2v2h-2z M343 801h4v2h-4z M342 803h6v3h-6z M341 806h8v2h-8z" fill="#000"/>
<path d="M210 789h1v1h-1z M208 788h2v2h-2z M206 787h2v4h-2z M203 786h3v6h-3z M201 785h2v8h-2z" fill="#000"/>
<path d="M110 796h2v2h-2z M112 795h2v4h-2z M114 794h3v6h-3z M117 793h2v8h-2z" fill="#000"/>
<path d="M223 606h2v2h-2z M225 605h2v4h-2z M227 604h3v6h-3z M230 603h2v8h-2z" fill="#000"/>
<path d="M210 604h1v1h-1z M208 603h2v2h-2z M206 602h2v4h-2z M203 601h3v6h-3z M201 600h2v8h-2z" fill="#000"/>
<path d="M109 610h2v2h-2z M111 609h2v4h-2z M113 608h3v6h-3z M116 607h2v8h-2z" fill="#000"/>
<path d="M859 199h1v1h-1z M857 198h2v2h-2z M855 197h2v4h-2z M852 196h3v6h-3z M850 195h2v8h-2z" fill="#000"/>
<path d="M766 238h2v2h-2z M768 237h2v4h-2z M770 236h3v6h-3z M773 235h2v8h-2z" fill="#000"/>
<path d="M862 274h2v1h-2z M862 272h2v2h-2z M861 270h4v2h-4z M860 267h6v3h-6z M859 265h8v2h-8z" fill="#000"/>
<path d="M765 251h2v2h-2z M764 253h4v2h-4z M763 255h6v3h-6z M762 258h8v2h-8z" fill="#000"/>
<path d="M968 239h1v1h-1z M966 238h2v2h-2z M964 237h2v4h-2z M961 236h3v6h-3z M959 235h2v8h-2z" fill="#000"/>
<path d="M968 247h1v1h-1z M966 246h2v2h-2z M964 245h2v4h-2z M961 244h3v6h-3z M959 243h2v8h-2z" fill="#000"/>
<path d="M1112 243h1v1h-1z M1110 242h2v2h-2z M1108 241h2v4h-2z M1105 240h3v6h-3z M1103 239h2v8h-2z" fill="#000"/>
<path d="M1081 328h2v1h-2z M1081 326h2v2h-2z M1080 324h4v2h-4z M1079 321h6v3h-6z M1078 319h8v2h-8z" fill="#000"/>
<path d="M757 251h2v2h-2z M756 253h4v2h-4z M755 255h6v3h-6z M754 258h8v2h-8z" fill="#000"/>
<path d="M872 333h2v2h-2z M874 332h2v4h-2z M876 331h3v6h-3z M879 330h2v8h-2z" fill="#000"/>
<path d="M750 453h1v1h-1z M748 452h2v2h-2z M746 451h2v4h-2z M743 450h3v6h-3z M741 449h2v8h-2z" fill="#000"/>
<path d="M750 250h1v1h-1z M748 249h2v2h-2z M746 248h2v4h-2z M743 247h3v6h-3z M741 246h2v8h-2z" fill="#000"/>
<path d="M646 339h2v2h-2z M645 341h4v2h-4z M644 343h6v3h-6z M643 346h8v2h-8z" fill="#000"/>
<path d="M646 411h2v2h-2z M645 413h4v2h-4z M644 415h6v3h-6z M643 418h8v2h-8z" fill="#000"/>
<path d="M752 469h2v2h-2z M751 471h4v2h-4z M750 473h6v3h-6z M749 476h8v2h-8z" fill="#000"/>
<path d="M841 384h1v1h-1z M839 383h2v2h-2z M837 382h2v4h-2z M834 381h3v6h-3z M832 380h2v8h-2z" fill="#000"/>
<path d="M935 384h1v1h-1z M933 383h2v2h-2z M931 382h2v4h-2z M928 381h3v6h-3z M926 380h2v8h-2z" fill="#000"/>
<path d="M757 641h2v1h-2z M757 639h2v2h-2z M756 637h4v2h-4z M755 634h6v3h-6z M754 632h8v2h-8z" fill="#000"/>
<path d="M865 494h2v2h-2z M864 496h4v2h-4z M863 498h6v3h-6z M862 501h8v2h-8z" fill="#000"/>
<path d="M968 538h1v1h-1z M966 537h2v2h-2z M964 536h2v4h-2z M961 535h3v6h-3z M959 534h2v8h-2z" fill="#000"/>
<path d="M872 543h2v2h-2z M874 542h2v4h-2z M876 541h3v6h-3z M879 540h2v8h-2z" fill="#000"/>
<path d="M859 613h1v1h-1z M857 612h2v2h-2z M855 611h2v4h-2z M852 610h3v6h-3z M850 609h2v8h-2z" fill="#000"/>
<path d="M766 645h2v2h-2z M768 644h2v4h-2z M770 643h3v6h-3z M773 642h2v8h-2z" fill="#000"/>
<path d="M861 686h2v1h-2z M861 684h2v2h-2z M860 682h4v2h-4z M859 679h6v3h-6z M858 677h8v2h-8z" fill="#000"/>
<path d="M760 659h2v2h-2z M759 661h4v2h-4z M758 663h6v3h-6z M757 666h8v2h-8z" fill="#000"/>
<path d="M967 645h1v1h-1z M965 644h2v2h-2z M963 643h2v4h-2z M960 642h3v6h-3z M958 641h2v8h-2z" fill="#000"/>
<path d="M967 654h1v1h-1z M965 653h2v2h-2z M963 652h2v4h-2z M960 651h3v6h-3z M958 650h2v8h-2z" fill="#000"/>
<path d="M1112 649h1v1h-1z M1110 648h2v2h-2z M1108 647h2v4h-2z M1105 646h3v6h-3z M1103 645h2v8h-2z" fill="#000"/>
<path d="M1079 549h2v2h-2z M1078 551h4v2h-4z M1077 553h6v3h-6z M1076 556h8v2h-8z" fill="#000"/>
<polygon points="751.5,667.5 759.5,667.5 755.5,659.5" fill="#fff" stroke="#000" stroke-linejoin="bevel"/>
<path d="M1084 549h2v2h-2z M1083 551h4v2h-4z M1082 553h6v3h-6z M1081 556h8v2h-8z" fill="#000"/>
<polygon points="1190.5,594.5 1190.5,602.5 1181.5,598.5" fill="#fff" stroke="#000" stroke-linejoin="bevel"/>
<path d="M979 330h2v2h-2z M981 329h2v4h-2z M983 328h3v6h-3z M986 327h2v8h-2z" fill="#000"/>
<path d="M1076 338h1v1h-1z M1074 337h2v2h-2z M1072 336h2v4h-2z M1069 335h3v6h-3z M1067 334h2v8h-2z" fill="#000"/>
<path d="M1188 331h1v1h-1z M1186 330h2v2h-2z M1184 329h2v4h-2z M1181 328h3v6h-3z M1179 327h2v8h-2z" fill="#000"/>
<path d="M1088 337h2v2h-2z M1090 336h2v4h-2z M1092 335h3v6h-3z M1095 334h2v8h-2z" fill="#000"/>
<path d="M973 341h2v2h-2z M972 343h4v2h-4z M971 345h6v3h-6z M970 348h8v2h-8z" fill="#000"/>
<path d="M973 395h2v2h-2z M972 397h4v2h-4z M971 399h6v3h-6z M970 402h8v2h-8z" fill="#000"/>
<path d="M973 448h2v2h-2z M972 450h4v2h-4z M971 452h6v3h-6z M970 455h8v2h-8z" fill="#000"/>
<path d="M1112 485h1v1h-1z M1110 484h2v2h-2z M1108 483h2v4h-2z M1105 482h3v6h-3z M1103 481h2v8h-2z" fill="#000"/>
<path d="M1112 491h1v1h-1z M1110 490h2v2h-2z M1108 489h2v4h-2z M1105 488h3v6h-3z M1103 487h2v8h-2z" fill="#000"/>
<path d="M1081 536h2v1h-2z M1081 534h2v2h-2z M1080 532h4v2h-4z M1079 529h6v3h-6z M1078 527h8v2h-8z" fill="#000"/>
<path d="M981 537h2v2h-2z M983 536h2v4h-2z M985 535h3v6h-3z M988 534h2v8h-2z" fill="#000"/>
<path d="M1075 544h1v1h-1z M1073 543h2v2h-2z M1071 542h2v4h-2z M1068 541h3v6h-3z M1066 540h2v8h-2z" fill="#000"/>
<path d="M1089 541h2v2h-2z M1091 540h2v4h-2z M1093 539h3v6h-3z M1096 538h2v8h-2z" fill="#000"/>
<path d="M1117 493h2v2h-2z M1116 495h4v2h-4z M1115 497h6v3h-6z M1114 500h8v2h-8z" fill="#000"/>
<path d="M1199 541h2v2h-2z M1201 540h2v4h-2z M1203 539h3v6h-3z M1206 538h2v8h-2z" fill="#000"/>
<path d="M1124 485h2v2h-2z M1126 484h2v4h-2z M1128 483h3v6h-3z M1131 482h2v8h-2z" fill="#000"/>
<polygon points="1180.5,428.5 1180.5,436.5 1189.5,432.5" fill="#fff" stroke="#000" stroke-linejoin="bevel"/>
<polygon points="1180.5,457.5 1180.5,465.5 1189.5,461.5" fill="#fff" stroke="#000" stroke-linejoin="bevel"/>
<polygon points="213.5,573.5 221.5,573.5 217.5,565.5" fill="#fff" stroke="#000" stroke-linejoin="bevel"/>
<polygon points="213.5,659.5 221.5,659.5 217.5,668.5" fill="#fff" stroke="#000" stroke-linejoin="bevel"/>
<polygon points="108.5,134.5 116.5,134.5 112.5,126.5" fill="#fff" stroke="#000" stroke-linejoin="bevel"/>
<polygon points="108.5,228.5 116.5,228.5 112.5,237.5" fill="#fff" stroke="#000" stroke-linejoin="bevel"/>
<polygon points="108.5,391.5 116.5,391.5 112.5,400.5" fill="#fff" stroke="#000" stroke-linejoin="bevel"/>
</g>
<g>
<text x="51" y="65" style="font-size:15px" textLength="262.66" lengthAdjust="spacingAndGlyphs">GLYCEROPHOSPHOLIPID &#160;METABOLISM</text>
<text x="57" y="117" textLength="119.61" lengthAdjust="spacingAndGlyphs">Glycerolipid metabolism</text>
<text x="61" y="420" textLength="109.94" lengthAdjust="spacingAndGlyphs">Ether lipid metaboilsm</text>
<text x="158.5" y="556" textLength="118.33" lengthAdjust="spacingAndGlyphs">GPI-anchor biosynthesis</text>
<text x="147" y="688" textLength="147.28" lengthAdjust="spacingAndGlyphs">Inositol phosphate metabolism</text>
<text x="707" y="759" textLength="95.97" lengthAdjust="spacingAndGlyphs">Glycine, serine, and</text>
<text x="707" y="770" textLength="104.28" lengthAdjust="spacingAndGlyphs">threonine metabolism</text>
<text x="1200.5" y="437" textLength="101.62" lengthAdjust="spacingAndGlyphs">Pyruvate metabolism</text>
<text x="1200" y="466" textLength="51.33" lengthAdjust="spacingAndGlyphs">Glycolysis</text>
<text x="1231" y="604" textLength="89.62" lengthAdjust="spacingAndGlyphs">Serine metabolism</text>
<text x="170.5" y="158" text-anchor="middle" textLength="40.00" lengthAdjust="spacingAndGlyphs">1.1.1.261</text>
<text x="170.5" y="219" text-anchor="middle" textLength="33.00" lengthAdjust="spacingAndGlyphs">1.1.1.8</text>
<text x="170.5" y="238" text-anchor="middle" textLength="39.00" lengthAdjust="spacingAndGlyphs">1.1.1.94</text>
<text x="170.5" y="259" text-anchor="middle" textLength="39.00" lengthAdjust="spacingAndGlyphs">1.1.3.21</text>
<text x="170.5" y="278" text-anchor="middle" textLength="33.00" lengthAdjust="spacingAndGlyphs">1.1.5.3</text>
<text x="112.5" y="306" text-anchor="middle" textLength="39.00" lengthAdjust="spacingAndGlyphs">2.3.1.42</text>
<text x="170.5" y="357" text-anchor="middle" textLength="40.00" lengthAdjust="spacingAndGlyphs">1.1.1.101</text>
<text x="251.5" y="306" text-anchor="middle" textLength="39.00" lengthAdjust="spacingAndGlyphs">2.3.1.15</text>
<text x="301.5" y="306" text-anchor="middle" textLength="40.00" lengthAdjust="spacingAndGlyphs">2.3.1.275</text>
<text x="353.5" y="306" text-anchor="middle" textLength="40.00" lengthAdjust="spacingAndGlyphs">2.3.1.198</text>
<text x="277.5" y="419" text-anchor="middle" textLength="39.00" lengthAdjust="spacingAndGlyphs">2.3.1.51</text>
<text x="353.5" y="419" text-anchor="middle" textLength="39.00" lengthAdjust="spacingAndGlyphs">2.3.1.52</text>
<text x="426.5" y="432" text-anchor="middle" textLength="33.00" lengthAdjust="spacingAndGlyphs">3.1.4.4</text>
<text x="521.5" y="373" text-anchor="middle" textLength="31.34" lengthAdjust="spacingAndGlyphs">Ptdss1</text>
<text x="562.5" y="466" text-anchor="middle" textLength="33.00" lengthAdjust="spacingAndGlyphs">3.1.3.4</text>
<text x="646.5" y="294" text-anchor="middle" textLength="39.00" lengthAdjust="spacingAndGlyphs">2.1.1.71</text>
<text x="647.5" y="379" text-anchor="middle" textLength="39.00" lengthAdjust="spacingAndGlyphs">2.1.1.71</text>
<text x="647.5" y="447" text-anchor="middle" textLength="39.00" lengthAdjust="spacingAndGlyphs">2.1.1.17</text>
<text x="395.5" y="96" text-anchor="middle" textLength="31.00" lengthAdjust="spacingAndGlyphs">2.5.1.-</text>
<text x="395.5" y="159" text-anchor="middle" textLength="39.00" lengthAdjust="spacingAndGlyphs">2.5.1.41</text>
<text x="499.5" y="159" text-anchor="middle" textLength="39.00" lengthAdjust="spacingAndGlyphs">2.5.1.42</text>
<text x="598.5" y="96" text-anchor="middle" textLength="31.00" lengthAdjust="spacingAndGlyphs">2.3.1.-</text>
<text x="598.5" y="159" text-anchor="middle" textLength="39.00" lengthAdjust="spacingAndGlyphs">2.7.7.67</text>
<text x="698.5" y="159" text-anchor="middle" textLength="39.00" lengthAdjust="spacingAndGlyphs">2.7.8.38</text>
<text x="527.5" y="184" text-anchor="middle" textLength="40.00" lengthAdjust="spacingAndGlyphs">1.3.1.101</text>
<text x="577.5" y="184" text-anchor="middle" textLength="38.56" lengthAdjust="spacingAndGlyphs">1.3.7.11</text>
<text x="388.5" y="216" text-anchor="middle" textLength="39.00" lengthAdjust="spacingAndGlyphs">3.6.1.16</text>
<text x="388.5" y="249" text-anchor="middle" textLength="39.00" lengthAdjust="spacingAndGlyphs">2.7.7.39</text>
<text x="426.5" y="487" text-anchor="middle" textLength="40.00" lengthAdjust="spacingAndGlyphs">2.7.1.107</text>
<text x="426.5" y="508" text-anchor="middle" textLength="40.00" lengthAdjust="spacingAndGlyphs">2.7.1.174</text>
<text x="426.5" y="531" text-anchor="middle" textLength="33.00" lengthAdjust="spacingAndGlyphs">3.1.4.4</text>
<text x="326.5" y="575" text-anchor="middle" textLength="39.00" lengthAdjust="spacingAndGlyphs">3.6.1.26</text>
<text x="371.5" y="595" text-anchor="middle" textLength="39.00" lengthAdjust="spacingAndGlyphs">2.7.7.41</text>
<text x="278.5" y="613" text-anchor="middle" textLength="38.56" lengthAdjust="spacingAndGlyphs">2.7.8.11</text>
<text x="426.5" y="614" text-anchor="middle" textLength="39.00" lengthAdjust="spacingAndGlyphs">2.7.8.24</text>
<text x="426.5" y="661" text-anchor="middle" textLength="33.00" lengthAdjust="spacingAndGlyphs">2.7.8.8</text>
<text x="162.5" y="604" text-anchor="middle" textLength="32.67" lengthAdjust="spacingAndGlyphs">LPIAT</text>
<text x="162.5" y="623" text-anchor="middle" textLength="39.00" lengthAdjust="spacingAndGlyphs">3.1.1.52</text>
<text x="565.5" y="619" text-anchor="middle" textLength="35.34" lengthAdjust="spacingAndGlyphs">LPSAT</text>
<text x="588.5" y="652" text-anchor="middle" textLength="39.00" lengthAdjust="spacingAndGlyphs">4.1.1.65</text>
<text x="588.5" y="671" text-anchor="middle" textLength="39.00" lengthAdjust="spacingAndGlyphs">2.7.8.29</text>
<text x="346.5" y="697" text-anchor="middle" textLength="33.00" lengthAdjust="spacingAndGlyphs">2.7.8.5</text>
<text x="346.5" y="759" text-anchor="middle" textLength="39.00" lengthAdjust="spacingAndGlyphs">3.1.3.27</text>
<text x="277.5" y="799" text-anchor="middle" textLength="39.00" lengthAdjust="spacingAndGlyphs">2.7.8.41</text>
<text x="277.5" y="820" text-anchor="middle" textLength="36.00" lengthAdjust="spacingAndGlyphs">ClsA/B</text>
<text x="277.5" y="841" text-anchor="middle" textLength="24.00" lengthAdjust="spacingAndGlyphs">ClsC</text>
<text x="345.5" y="847" text-anchor="middle" textLength="37.34" lengthAdjust="spacingAndGlyphs">LPGAT</text>
<text x="449.5" y="788" text-anchor="middle" textLength="33.00" lengthAdjust="spacingAndGlyphs">3.1.4.3</text>
<text x="449.5" y="809" text-anchor="middle" textLength="31.00" lengthAdjust="spacingAndGlyphs">3.1.4.-</text>
<text x="561.5" y="699" text-anchor="middle" textLength="39.00" lengthAdjust="spacingAndGlyphs">3.1.1.32</text>
<text x="561.5" y="720" text-anchor="middle" textLength="40.00" lengthAdjust="spacingAndGlyphs">3.1.1.111</text>
<text x="162.5" y="789" text-anchor="middle" textLength="37.33" lengthAdjust="spacingAndGlyphs">LCLAT</text>
<text x="162.5" y="808" text-anchor="middle" textLength="30.00" lengthAdjust="spacingAndGlyphs">CLD1</text>
<text x="813.5" y="194" text-anchor="middle" textLength="39.00" lengthAdjust="spacingAndGlyphs">2.3.1.43</text>
<text x="813.5" y="215" text-anchor="middle" textLength="33.00" lengthAdjust="spacingAndGlyphs">3.1.1.4</text>
<text x="813.5" y="239" text-anchor="middle" textLength="36.67" lengthAdjust="spacingAndGlyphs">LPCAT</text>
<text x="813.5" y="259" text-anchor="middle" textLength="39.00" lengthAdjust="spacingAndGlyphs">3.1.1.32</text>
<text x="813.5" y="281" text-anchor="middle" textLength="39.00" lengthAdjust="spacingAndGlyphs">2.3.1.62</text>
<text x="911.5" y="240" text-anchor="middle" textLength="33.00" lengthAdjust="spacingAndGlyphs">3.1.1.5</text>
<text x="911.5" y="259" text-anchor="middle" textLength="33.00" lengthAdjust="spacingAndGlyphs">3.1.1.5</text>
<text x="759.5" y="308" text-anchor="middle" textLength="33.00" lengthAdjust="spacingAndGlyphs">2.7.8.2</text>
<text x="911.5" y="339" text-anchor="middle" textLength="39.00" lengthAdjust="spacingAndGlyphs">2.7.7.15</text>
<text x="701.5" y="358" text-anchor="middle" textLength="33.00" lengthAdjust="spacingAndGlyphs">3.1.4.3</text>
<text x="800.5" y="379" text-anchor="middle" textLength="29.05" lengthAdjust="spacingAndGlyphs">BTA1</text>
<text x="800.5" y="400" text-anchor="middle" textLength="25.33" lengthAdjust="spacingAndGlyphs">BtaA</text>
<text x="892.5" y="379" text-anchor="middle" textLength="29.05" lengthAdjust="spacingAndGlyphs">BTA1</text>
<text x="892.5" y="400" text-anchor="middle" textLength="24.66" lengthAdjust="spacingAndGlyphs">BtaB</text>
<text x="1031.5" y="238" text-anchor="middle" textLength="33.00" lengthAdjust="spacingAndGlyphs">3.1.4.2</text>
<text x="1031.5" y="259" text-anchor="middle" textLength="39.00" lengthAdjust="spacingAndGlyphs">3.1.4.46</text>
<text x="1031.5" y="330" text-anchor="middle" textLength="39.00" lengthAdjust="spacingAndGlyphs">2.7.1.32</text>
<text x="1031.5" y="350" text-anchor="middle" textLength="39.00" lengthAdjust="spacingAndGlyphs">3.1.3.75</text>
<text x="1143.5" y="330" text-anchor="middle" textLength="33.00" lengthAdjust="spacingAndGlyphs">2.3.1.6</text>
<text x="1143.5" y="350" text-anchor="middle" textLength="33.00" lengthAdjust="spacingAndGlyphs">3.1.1.7</text>
<text x="974.5" y="372" text-anchor="middle" textLength="40.00" lengthAdjust="spacingAndGlyphs">2.1.1.103</text>
<text x="974.5" y="426" text-anchor="middle" textLength="40.00" lengthAdjust="spacingAndGlyphs">2.1.1.103</text>
<text x="974.5" y="478" text-anchor="middle" textLength="40.00" lengthAdjust="spacingAndGlyphs">2.1.1.103</text>
<text x="1031.5" y="492" text-anchor="middle" textLength="33.00" lengthAdjust="spacingAndGlyphs">4.2.3.2</text>
<text x="911.5" y="494" text-anchor="middle" textLength="39.00" lengthAdjust="spacingAndGlyphs">3.1.4.13</text>
<text x="867.5" y="525" text-anchor="middle" textLength="33.00" lengthAdjust="spacingAndGlyphs">2.7.8.4</text>
<text x="911.5" y="550" text-anchor="middle" textLength="39.00" lengthAdjust="spacingAndGlyphs">2.7.7.14</text>
<text x="1031.5" y="537" text-anchor="middle" textLength="39.00" lengthAdjust="spacingAndGlyphs">2.7.1.82</text>
<text x="1031.5" y="556" text-anchor="middle" textLength="39.00" lengthAdjust="spacingAndGlyphs">3.1.3.75</text>
<text x="1083.5" y="519" text-anchor="middle" textLength="33.00" lengthAdjust="spacingAndGlyphs">4.3.1.7</text>
<text x="1154.5" y="547" text-anchor="middle" textLength="31.00" lengthAdjust="spacingAndGlyphs">4.3.3.-</text>
<text x="1258.5" y="547" text-anchor="middle" textLength="31.00" lengthAdjust="spacingAndGlyphs">4.3.3.-</text>
<text x="1131.5" y="604" text-anchor="middle" textLength="31.00" lengthAdjust="spacingAndGlyphs">4.1.1.-</text>
<text x="675.5" y="569" text-anchor="middle" textLength="33.00" lengthAdjust="spacingAndGlyphs">3.1.4.3</text>
<text x="725.5" y="569" text-anchor="middle" textLength="39.00" lengthAdjust="spacingAndGlyphs">3.1.4.62</text>
<text x="759.5" y="595" text-anchor="middle" textLength="33.00" lengthAdjust="spacingAndGlyphs">2.7.8.1</text>
<text x="813.5" y="620" text-anchor="middle" textLength="33.00" lengthAdjust="spacingAndGlyphs">3.1.1.4</text>
<text x="813.5" y="646" text-anchor="middle" textLength="36.00" lengthAdjust="spacingAndGlyphs">LPEAT</text>
<text x="813.5" y="666" text-anchor="middle" textLength="39.00" lengthAdjust="spacingAndGlyphs">3.1.1.32</text>
<text x="911.5" y="646" text-anchor="middle" textLength="33.00" lengthAdjust="spacingAndGlyphs">3.1.1.5</text>
<text x="911.5" y="666" text-anchor="middle" textLength="33.00" lengthAdjust="spacingAndGlyphs">3.1.1.5</text>
<text x="813.5" y="697" text-anchor="middle" textLength="39.00" lengthAdjust="spacingAndGlyphs">2.3.1.40</text>
<text x="1031.5" y="644" text-anchor="middle" textLength="33.00" lengthAdjust="spacingAndGlyphs">3.1.4.2</text>
<text x="1031.5" y="665" text-anchor="middle" textLength="39.00" lengthAdjust="spacingAndGlyphs">3.1.4.46</text>
<text x="44.5" y="251" textLength="60.66" lengthAdjust="spacingAndGlyphs">Glycerone-P</text>
<text x="286.6" y="175" textLength="73.33" lengthAdjust="spacingAndGlyphs">sn-Glycerol-1P</text>
<text x="272.8" y="237" textLength="73.33" lengthAdjust="spacingAndGlyphs">sn-Glycerol-3P</text>
<text x="43.5" y="352" textLength="37.33" lengthAdjust="spacingAndGlyphs">1-Acyl-</text>
<text x="43.5" y="363" textLength="63.98" lengthAdjust="spacingAndGlyphs">glycerone-3P</text>
<text x="199" y="335.5" textLength="37.33" lengthAdjust="spacingAndGlyphs">1-Acyl-</text>
<text x="199" y="346.5" textLength="70.66" lengthAdjust="spacingAndGlyphs">sn-glycerol-3P</text>
<text x="268.7" y="475" textLength="54.98" lengthAdjust="spacingAndGlyphs">1,2-Diacyl-</text>
<text x="268.7" y="486" textLength="70.66" lengthAdjust="spacingAndGlyphs">sn-glycerol-3P</text>
<text x="221" y="629" textLength="66.66" lengthAdjust="spacingAndGlyphs">Phosphatidyl-</text>
<text x="221" y="640" textLength="79.98" lengthAdjust="spacingAndGlyphs">1D-myo-inositol</text>
<text x="47.6" y="631" textLength="91.98" lengthAdjust="spacingAndGlyphs">1-Acyl-sn-glycero-</text>
<text x="47.6" y="642" textLength="86.66" lengthAdjust="spacingAndGlyphs">3-phosphoinositol</text>
<text x="197" y="779.5" textLength="54.64" lengthAdjust="spacingAndGlyphs">Cardiolipin</text>
<text x="74.6" y="818" textLength="52.67" lengthAdjust="spacingAndGlyphs">Monolyso-</text>
<text x="74.6" y="829" textLength="51.97" lengthAdjust="spacingAndGlyphs">cardiolipin</text>
<text x="16" y="910" textLength="69.66" lengthAdjust="spacingAndGlyphs">00564 8/23/24</text>
<text x="16" y="921" textLength="124.62" lengthAdjust="spacingAndGlyphs">(c) Kanehisa Laboratories</text>
<text x="530.8" y="70" textLength="63.31" lengthAdjust="spacingAndGlyphs">Heptaprenyl-</text>
<text x="530.8" y="81" textLength="39.31" lengthAdjust="spacingAndGlyphs">glycerol</text>
<text x="423" y="111.5" textLength="63.31" lengthAdjust="spacingAndGlyphs">Heptaprenyl-</text>
<text x="423" y="122.5" textLength="87.97" lengthAdjust="spacingAndGlyphs">glycerylphosphate</text>
<text x="524.8" y="131.5" textLength="135.64" lengthAdjust="spacingAndGlyphs">2,3-Bis-(O-geranylgeranyl)-</text>
<text x="524.8" y="142.5" textLength="70.66" lengthAdjust="spacingAndGlyphs">sn-glycerol-1P</text>
<text x="382.5" y="176" textLength="109.31" lengthAdjust="spacingAndGlyphs">3-(O-Geranylgeranyl)-</text>
<text x="382.5" y="187" textLength="70.66" lengthAdjust="spacingAndGlyphs">sn-glycerol-1P</text>
<text x="610" y="176" textLength="160.98" lengthAdjust="spacingAndGlyphs">CDP-2,3-bis-(O-geranylgeranyl)-</text>
<text x="610" y="187" textLength="53.98" lengthAdjust="spacingAndGlyphs">sn-glycerol</text>
<text x="440.5" y="208.5" textLength="105.66" lengthAdjust="spacingAndGlyphs">2,3-Bis-(O-phytanyl)-</text>
<text x="440.5" y="219.5" textLength="70.66" lengthAdjust="spacingAndGlyphs">sn-glycerol-1P</text>
<text x="426" y="263" textLength="27.34" lengthAdjust="spacingAndGlyphs">CDP-</text>
<text x="426" y="274" textLength="39.31" lengthAdjust="spacingAndGlyphs">glycerol</text>
<text x="365.3" y="269" textLength="50.00" lengthAdjust="spacingAndGlyphs">Acyl-CoA</text>
<text x="362.5" y="340.5" textLength="37.33" lengthAdjust="spacingAndGlyphs">2-Acyl-</text>
<text x="362.5" y="351.5" textLength="70.66" lengthAdjust="spacingAndGlyphs">sn-glycerol-3P</text>
<text x="365" y="383" textLength="50.00" lengthAdjust="spacingAndGlyphs">Acyl-CoA</text>
<text x="570.5" y="321.5" textLength="49.31" lengthAdjust="spacingAndGlyphs">Dimethyl-</text>
<text x="570.5" y="332.5" textLength="65.98" lengthAdjust="spacingAndGlyphs">phosphatidyl-</text>
<text x="570.5" y="343.5" textLength="64.62" lengthAdjust="spacingAndGlyphs">ethanolamine</text>
<text x="570.5" y="401.5" textLength="65.98" lengthAdjust="spacingAndGlyphs">Monomethyl-</text>
<text x="570.5" y="412.5" textLength="65.98" lengthAdjust="spacingAndGlyphs">phosphatidyl-</text>
<text x="570.5" y="423.5" textLength="64.62" lengthAdjust="spacingAndGlyphs">ethanolamine</text>
<text x="360.8" y="636.5" textLength="60.66" lengthAdjust="spacingAndGlyphs">CDP-diacyl-</text>
<text x="360.8" y="647.5" textLength="39.31" lengthAdjust="spacingAndGlyphs">glycerol</text>
<text x="455" y="671" textLength="66.66" lengthAdjust="spacingAndGlyphs">Phosphatidyl-</text>
<text x="455" y="682" textLength="39.98" lengthAdjust="spacingAndGlyphs">L-serine</text>
<text x="536.8" y="588.5" textLength="91.98" lengthAdjust="spacingAndGlyphs">1-Acyl-sn-glycero-</text>
<text x="536.8" y="599.5" textLength="79.33" lengthAdjust="spacingAndGlyphs">3-phosphoserine</text>
<text x="354.8" y="723.5" textLength="66.66" lengthAdjust="spacingAndGlyphs">Phosphatidyl-</text>
<text x="354.8" y="734.5" textLength="84.64" lengthAdjust="spacingAndGlyphs">glycerophosphate</text>
<text x="354.8" y="777" textLength="66.66" lengthAdjust="spacingAndGlyphs">Phosphatidyl-</text>
<text x="354.8" y="788" textLength="39.31" lengthAdjust="spacingAndGlyphs">glycerol</text>
<text x="502.5" y="791" textLength="54.98" lengthAdjust="spacingAndGlyphs">1,2-Diacyl-</text>
<text x="502.5" y="802" textLength="53.98" lengthAdjust="spacingAndGlyphs">sn-glycerol</text>
<text x="506.3" y="820.5" textLength="57.31" lengthAdjust="spacingAndGlyphs">Aminoacyl-</text>
<text x="506.3" y="831.5" textLength="101.30" lengthAdjust="spacingAndGlyphs">phosphatidylglycerol</text>
<text x="287" y="881.5" textLength="124.64" lengthAdjust="spacingAndGlyphs">Lysophosphatidylglycerol</text>
<text x="663" y="91" textLength="101.28" lengthAdjust="spacingAndGlyphs">Diacetylheptaprenyl-</text>
<text x="663" y="102" textLength="39.31" lengthAdjust="spacingAndGlyphs">glycerol</text>
<text x="764.4" y="150" textLength="135.64" lengthAdjust="spacingAndGlyphs">2,3-Bis-(O-geranylgeranyl)-</text>
<text x="764.4" y="161" textLength="149.31" lengthAdjust="spacingAndGlyphs">sn-glycero-1-phospho-L-serine</text>
<text x="755.5" y="218.5" text-anchor="end" textLength="97.97" lengthAdjust="spacingAndGlyphs">Phosphatidylcholine</text>
<text x="753.8" y="229.5" text-anchor="end" textLength="47.97" lengthAdjust="spacingAndGlyphs">(Lecithin)</text>
<text x="874.3" y="199.5" textLength="91.98" lengthAdjust="spacingAndGlyphs">1-Acyl-sn-glycero-</text>
<text x="874.3" y="210.5" textLength="85.98" lengthAdjust="spacingAndGlyphs">3-phosphocholine</text>
<text x="836.3" y="297.5" textLength="91.98" lengthAdjust="spacingAndGlyphs">2-Acyl-sn-glycero-</text>
<text x="836.3" y="308.5" textLength="85.98" lengthAdjust="spacingAndGlyphs">3-phosphocholine</text>
<text x="818.3" y="326" textLength="62.66" lengthAdjust="spacingAndGlyphs">CDP-choline</text>
<text x="830.5" y="402.5" textLength="32.69" lengthAdjust="spacingAndGlyphs">DGHS</text>
<text x="926.3" y="402.5" textLength="31.34" lengthAdjust="spacingAndGlyphs">DGTS</text>
<text x="768.8" y="462" textLength="54.98" lengthAdjust="spacingAndGlyphs">1,2-Diacyl-</text>
<text x="768.8" y="473" textLength="53.98" lengthAdjust="spacingAndGlyphs">sn-glycerol</text>
<text x="838.8" y="465" textLength="90.66" lengthAdjust="spacingAndGlyphs">L-Serine-phospho-</text>
<text x="838.8" y="476" textLength="64.62" lengthAdjust="spacingAndGlyphs">ethanolamine</text>
<text x="952.5" y="317" textLength="45.34" lengthAdjust="spacingAndGlyphs">Phospho-</text>
<text x="952.5" y="328" textLength="35.31" lengthAdjust="spacingAndGlyphs">choline</text>
<text x="830.5" y="557" textLength="27.34" lengthAdjust="spacingAndGlyphs">CDP-</text>
<text x="830.5" y="568" textLength="64.62" lengthAdjust="spacingAndGlyphs">ethanolamine</text>
<text x="830.5" y="588.5" textLength="101.98" lengthAdjust="spacingAndGlyphs">1-Acyl-sn-glycero-3-</text>
<text x="830.5" y="599.5" textLength="105.30" lengthAdjust="spacingAndGlyphs">phosphoethanolamine</text>
<text x="747.5" y="674" text-anchor="end" textLength="66.66" lengthAdjust="spacingAndGlyphs">Phosphatidyl-</text>
<text x="683" y="685" textLength="64.62" lengthAdjust="spacingAndGlyphs">ethanolamine</text>
<text x="595" y="723.5" textLength="91.98" lengthAdjust="spacingAndGlyphs">2-Acyl-sn-glycero-</text>
<text x="595" y="734.5" textLength="79.33" lengthAdjust="spacingAndGlyphs">3-phosphoserine</text>
<text x="846.3" y="711.5" textLength="101.98" lengthAdjust="spacingAndGlyphs">2-Acyl-sn-glycero-3-</text>
<text x="846.3" y="722.5" textLength="105.30" lengthAdjust="spacingAndGlyphs">phosphoethanolamine</text>
<text x="942.5" y="266" textLength="64.66" lengthAdjust="spacingAndGlyphs">sn-glycero-3-</text>
<text x="942.5" y="277" textLength="76.66" lengthAdjust="spacingAndGlyphs">Phosphocholine</text>
<text x="1092.7" y="262" textLength="73.33" lengthAdjust="spacingAndGlyphs">sn-Glycerol-3P</text>
<text x="1066.5" y="357" textLength="37.98" lengthAdjust="spacingAndGlyphs">Choline</text>
<text x="1206.6" y="339.5" textLength="79.97" lengthAdjust="spacingAndGlyphs">O-Acetylcholine</text>
<text x="985" y="391" textLength="87.98" lengthAdjust="spacingAndGlyphs">Phosphodimethyl-</text>
<text x="985" y="402" textLength="64.62" lengthAdjust="spacingAndGlyphs">ethanolamine</text>
<text x="985" y="443" textLength="86.64" lengthAdjust="spacingAndGlyphs">N-Methylethanol-</text>
<text x="985" y="454" textLength="80.97" lengthAdjust="spacingAndGlyphs">amine phosphate</text>
<text x="1125" y="503" textLength="65.97" lengthAdjust="spacingAndGlyphs">Acetaldehyde</text>
<text x="951.3" y="561.5" textLength="45.34" lengthAdjust="spacingAndGlyphs">Phospho-</text>
<text x="951.3" y="572.5" textLength="64.62" lengthAdjust="spacingAndGlyphs">ethanolamine</text>
<text x="1094.7" y="564.5" textLength="66.62" lengthAdjust="spacingAndGlyphs">Ethanolamine</text>
<text x="1177" y="564" textLength="76.62" lengthAdjust="spacingAndGlyphs">Diethanolamine</text>
<text x="1271.4" y="565" textLength="78.86" lengthAdjust="spacingAndGlyphs">Triethanolamine</text>
<text x="1164.8" y="617" textLength="41.98" lengthAdjust="spacingAndGlyphs">L-Serine</text>
<text x="942.5" y="615" textLength="57.33" lengthAdjust="spacingAndGlyphs">sn-Glycero-</text>
<text x="942.5" y="626" textLength="54.67" lengthAdjust="spacingAndGlyphs">3-phospho-</text>
<text x="942.5" y="637" textLength="64.62" lengthAdjust="spacingAndGlyphs">ethanolamine</text>
<text x="1086.5" y="666.5" textLength="73.33" lengthAdjust="spacingAndGlyphs">sn-Glycerol-3P</text>
</g>
</svg>
</body></html>
